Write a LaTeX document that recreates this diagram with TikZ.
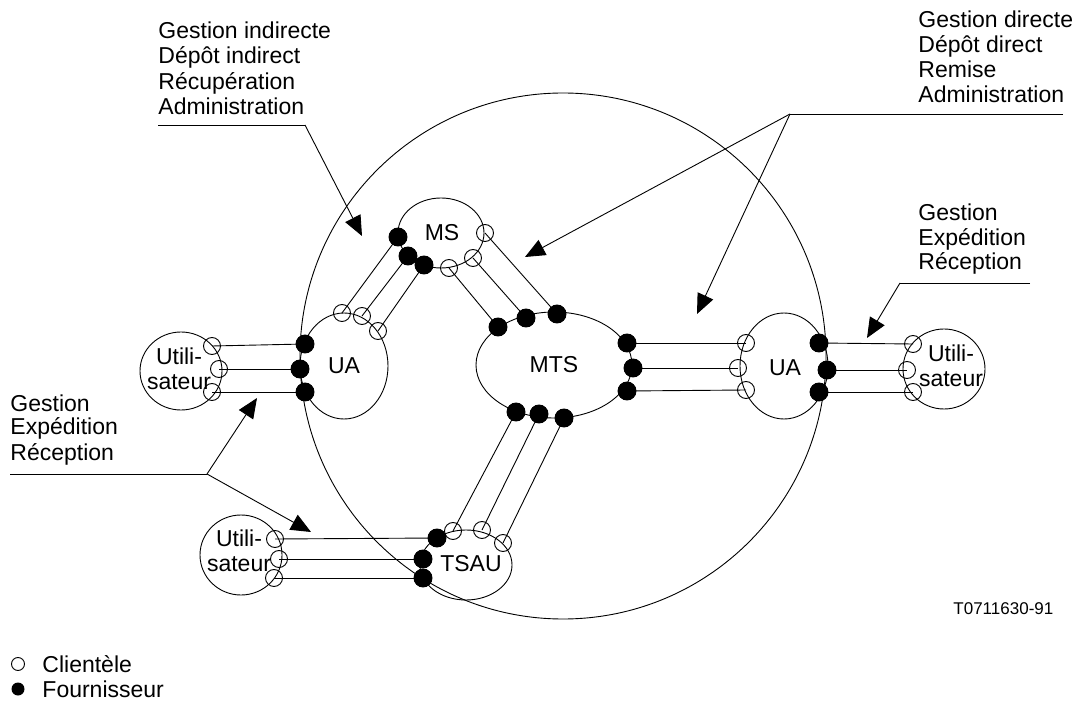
\documentclass[tikz,border=0pt]{standalone}
\usepackage{fontspec}
\setmainfont{Liberation Sans}
\usetikzlibrary{shapes.geometric,arrows.meta}

\tikzset{
  every node/.style={font=\fontsize{23}{25}\selectfont},
  ell/.style={ellipse, draw, inner sep=0pt},
  blk/.style={circle, fill=black, draw=black, inner sep=0pt, minimum size=18pt},
  opn/.style={circle, draw, inner sep=0pt, minimum size=17pt},
  lbl/.style={anchor=base west, inner sep=0pt},
  usertext/.style={align=center, inner sep=0pt},
  callout/.style={-{Triangle[length=20pt,width=17pt]}},
}

\begin{document}
\begin{tikzpicture}[x=1pt, y=-1pt, line width=0.9pt]
\useasboundingbox (0,0) rectangle (1085,711);

% the message handling environment
\draw (563,356) circle[radius=263];

% functional objects
\node[ell, minimum width=88pt, minimum height=106pt] (uaL) at (344,366) {UA};
\node[ell, minimum width=86pt, minimum height=70pt] (ms) at (441,233) {};
\node at (442,233) {MS};
\node[ell, minimum width=156pt, minimum height=106pt] (mts) at (554,365) {MTS};
\node[ell, minimum width=88pt, minimum height=106pt] (uaR) at (784,366) {};
\node at (785,368) {UA};
\node[ell, minimum width=92pt, minimum height=70pt] (tsau) at (466,565) {};
\node at (471,564) {TSAU};

% users
\node[ell, minimum width=82pt, minimum height=78pt] (userL) at (181,371) {};
\node[usertext] at (179,369) {Utili-\\sateur};
\node[ell, minimum width=82pt, minimum height=80pt] (userR) at (944,369) {};
\node[usertext] at (951,366) {Utili-\\sateur};
\node[ell, minimum width=82pt, minimum height=80pt] (userB) at (241,555) {};
\node[usertext] at (239,551) {Utili-\\sateur};

% ports: left user <-> left UA
\node[opn] (uLo1) at (212,346) {};
\node[opn] (uLo2) at (219,369) {};
\node[opn] (uLo3) at (212,392) {};
\node[blk] (aLb1) at (305,344) {};
\node[blk] (aLb2) at (300,369) {};
\node[blk] (aLb3) at (305,392) {};

% ports: left UA <-> MS
\node[opn] (aLo1) at (342,313) {};
\node[opn] (aLo2) at (362,316) {};
\node[opn] (aLo3) at (378,331) {};
\node[blk] (msb1) at (398,237) {};
\node[blk] (msb2) at (408,256) {};
\node[blk] (msb3) at (424,265) {};

% ports: MS <-> MTS
\node[opn] (mso1) at (485,233) {};
\node[opn] (mso2) at (473,258) {};
\node[opn] (mso3) at (449,268) {};
\node[blk] (mtb1) at (557,314) {};
\node[blk] (mtb2) at (526,318) {};
\node[blk] (mtb3) at (498,327) {};

% ports: MTS <-> right UA
\node[blk] (mtr1) at (627,343) {};
\node[blk] (mtr2) at (633,368) {};
\node[blk] (mtr3) at (627,391) {};
\node[opn] (aRo1) at (746,343) {};
\node[opn] (aRo2) at (738,368) {};
\node[opn] (aRo3) at (746,390) {};

% ports: right UA <-> right user
\node[blk] (aRb1) at (819,343) {};
\node[blk] (aRb2) at (827,370) {};
\node[blk] (aRb3) at (819,392) {};
\node[opn] (uRo1) at (913,344) {};
\node[opn] (uRo2) at (907,370) {};
\node[opn] (uRo3) at (913,392) {};

% ports: MTS <-> TSAU
\node[blk] (mtd1) at (516,412) {};
\node[blk] (mtd2) at (539,414) {};
\node[blk] (mtd3) at (564,418) {};
\node[opn] (tso1) at (453,531) {};
\node[opn] (tso2) at (482,530) {};
\node[opn] (tso3) at (503,543) {};

% ports: bottom user <-> TSAU
\node[opn] (uBo1) at (275,539) {};
\node[opn] (uBo2) at (279,559) {};
\node[opn] (uBo3) at (274,578) {};
\node[blk] (tsb1) at (437,538) {};
\node[blk] (tsb2) at (423,559) {};
\node[blk] (tsb3) at (423,578) {};

% abstract service links
\foreach \a/\b in {uLo1/aLb1, uLo2/aLb2, uLo3/aLb3,
                   aLo1/msb1, aLo2/msb2, aLo3/msb3,
                   mso1/mtb1, mso2/mtb2, mso3/mtb3,
                   mtr1/aRo1, mtr2/aRo2, mtr3/aRo3,
                   aRb1/uRo1, aRb2/uRo2, aRb3/uRo3,
                   mtd1/tso1, mtd2/tso2, mtd3/tso3,
                   uBo1/tsb1, uBo2/tsb2, uBo3/tsb3}
  \draw (\a.center) -- (\b.center);

% redraw providers on top of the links
\foreach \p in {aLb1,aLb2,aLb3,msb1,msb2,msb3,mtb1,mtb2,mtb3,
                mtr1,mtr2,mtr3,aRb1,aRb2,aRb3,mtd1,mtd2,mtd3,tsb1,tsb2,tsb3}
  \fill (\p.center) circle[radius=9];

% callout: indirect services
\node[lbl] (ti1) at (158,39) {Gestion indirecte};
\node[lbl] (ti2) at (158,64) {Dépôt indirect};
\node[lbl] (ti3) at (158,90) {Récupération};
\node[lbl] (ti4) at (158,115) {Administration};
\coordinate (ciS) at (158,125);
\coordinate (ciK) at (305,125);
\coordinate (ciT) at (362,236);
\draw (ciS) -- (ciK);
\draw[callout] (ciK) -- (ciT);

% callout: direct services
\node[lbl] (td1) at (918,28) {Gestion directe};
\node[lbl] (td2) at (918,53) {Dépôt direct};
\node[lbl] (td3) at (918,78) {Remise};
\node[lbl] (td4) at (918,103) {Administration};
\coordinate (cdS) at (1063,114);
\coordinate (cdK) at (790,114);
\coordinate (cdT1) at (525,257);
\coordinate (cdT2) at (697,314);
\draw (cdS) -- (cdK);
\draw[callout] (cdK) -- (cdT1);
\draw[callout] (cdK) -- (cdT2);

% callout: user services, right
\node[lbl] (tr1) at (918,221) {Gestion};
\node[lbl] (tr2) at (918,246) {Expédition};
\node[lbl] (tr3) at (918,270) {Réception};
\coordinate (crS) at (1030,283);
\coordinate (crK) at (900,283);
\coordinate (crT) at (867,338);
\draw (crS) -- (crK);
\draw[callout] (crK) -- (crT);

% callout: user services, left
\node[lbl] (tl1) at (10,411) {Gestion};
\node[lbl] (tl2) at (10,435) {Expédition};
\node[lbl] (tl3) at (10,460) {Réception};
\coordinate (clS) at (10,474);
\coordinate (clK) at (207,474);
\coordinate (clT1) at (257,398);
\coordinate (clT2) at (311,532);
\draw (clS) -- (clK);
\draw[callout] (clK) -- (clT1);
\draw[callout] (clK) -- (clT2);

% figure reference
\node[lbl, font=\fontsize{17}{19}\selectfont] (ref) at (953,614) {T0711630-91};

% legend
\node[circle, draw, inner sep=0pt, minimum size=13pt] (lgo) at (18,664) {};
\node[lbl] (lgot) at (42,672) {Clientèle};
\node[circle, fill=black, inner sep=0pt, minimum size=13pt] (lgb) at (18,689) {};
\node[lbl] (lgbt) at (42,697) {Fournisseur};
\end{tikzpicture}
\end{document}
